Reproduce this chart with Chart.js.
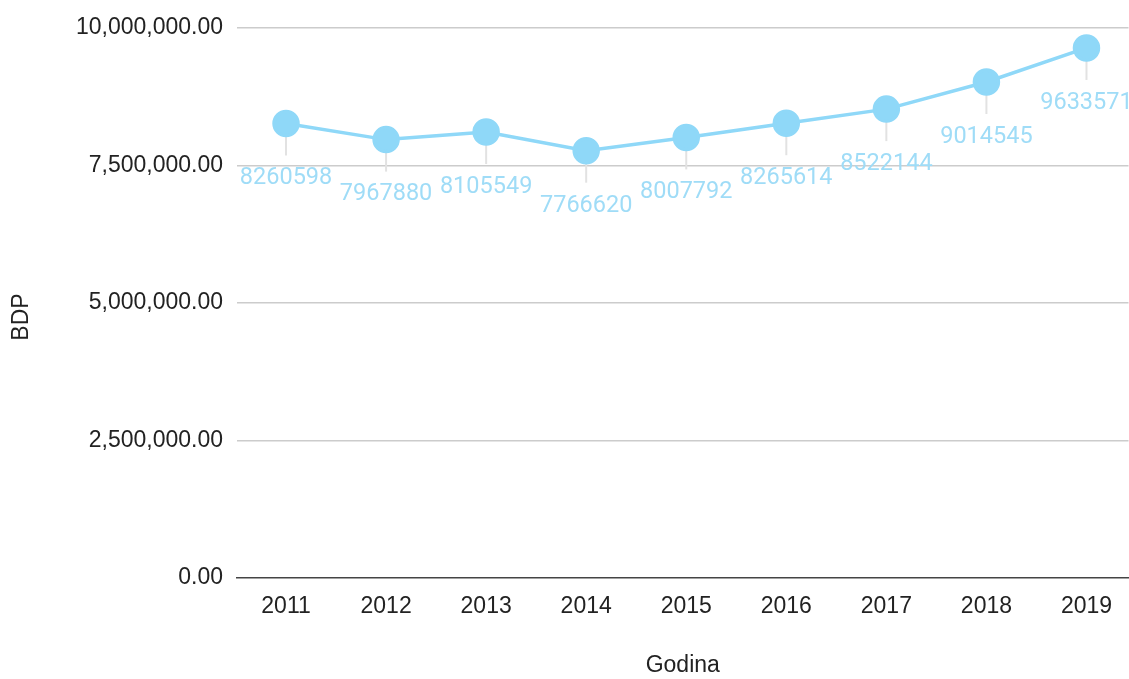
<!DOCTYPE html>
<html lang="hr">
<head>
  <meta charset="UTF-8">
  <title>BDP po godinama</title>
  <style>
    html, body { margin: 0; padding: 0; background: #fff; overflow: hidden; }
    .wrap { width: 1129px; height: 679px; overflow: hidden; }
  </style>
</head>
<body>
  <div class="wrap"><canvas id="bdpChart" width="1144" height="679"></canvas></div>

  <script src="https://cdn.jsdelivr.net/npm/chart.js"></script>
  <script>
    const years = [2011, 2012, 2013, 2014, 2015, 2016, 2017, 2018, 2019];
    const bdp = [8260598, 7967880, 8105549, 7766620, 8007792, 8265614, 8522144, 9014545, 9633571];
    const yTicks = [0, 2500000, 5000000, 7500000, 10000000];

    const lineColor = '#8fd8f8';
    const labelColor = '#9fdcf7';
    const axisFont = { family: 'Liberation Sans, Arial', size: 23 };

    // labels under each point, with a short grey leader line
    const pointLabels = {
      id: 'pointLabels',
      beforeDatasetsDraw(chart) {
        const ctx = chart.ctx;
        const meta = chart.getDatasetMeta(0);
        ctx.save();
        ctx.strokeStyle = '#e2e2e2';
        ctx.lineWidth = 2;
        meta.data.forEach(pt => {
          ctx.beginPath();
          ctx.moveTo(pt.x, pt.y);
          ctx.lineTo(pt.x, pt.y + 32);
          ctx.stroke();
        });
        ctx.restore();
      },
      afterDatasetsDraw(chart) {
        const ctx = chart.ctx;
        const meta = chart.getDatasetMeta(0);
        ctx.save();
        ctx.fillStyle = labelColor;
        ctx.font = '23.5px Roboto';
        ctx.textAlign = 'center';
        ctx.textBaseline = 'middle';
        meta.data.forEach((pt, i) => {
          ctx.fillText(String(bdp[i]), pt.x, pt.y + 55);
        });
        ctx.restore();
      }
    };

    // y axis title sits a bit below the middle of the plot in the original
    const yTitle = {
      id: 'yTitle',
      afterDraw(chart) {
        const ctx = chart.ctx;
        ctx.save();
        ctx.translate(22, 317);
        ctx.rotate(-Math.PI / 2);
        ctx.fillStyle = '#222';
        ctx.font = '23px Liberation Sans, Arial';
        ctx.textAlign = 'center';
        ctx.textBaseline = 'middle';
        ctx.fillText('BDP', 0, 0);
        ctx.restore();
      }
    };

    const ctx = document.getElementById('bdpChart').getContext('2d');
    new Chart(ctx, {
      type: 'line',
      data: {
        datasets: [{
          label: 'BDP',
          data: years.map((y, i) => ({ x: y, y: bdp[i] })),
          borderColor: lineColor,
          backgroundColor: lineColor,
          pointBackgroundColor: lineColor,
          pointBorderColor: lineColor,
          borderWidth: 3.5,
          pointRadius: 12,
          pointHoverRadius: 12,
          tension: 0
        }]
      },
      plugins: [pointLabels, yTitle],
      options: {
        responsive: false,
        animation: false,
        layout: { padding: { top: 25, right: 0, left: 0, bottom: 0 } },
        plugins: {
          legend: { display: false },
          tooltip: { enabled: false }
        },
        scales: {
          x: {
            type: 'linear',
            min: 2010.51,
            max: 2019.42,
            afterBuildTicks: s => { s.ticks = years.map(v => ({ value: v })); },
            afterFit: s => { s.height = 101; },
            grid: { display: false, drawTicks: false },
            border: { color: '#444', width: 1.5 },
            ticks: {
              color: '#222',
              font: axisFont,
              padding: 15,
              maxRotation: 0,
              callback: v => String(v)
            },
            title: {
              display: true,
              text: 'Godina',
              color: '#222',
              font: axisFont,
              padding: { top: 26, bottom: 0 }
            }
          },
          y: {
            min: 0,
            max: 10000000,
            afterBuildTicks: s => { s.ticks = yTicks.map(v => ({ value: v })); },
            afterFit: s => { s.width = 237; },
            grid: {
              color: c => c.tick && c.tick.value === 0 ? 'rgba(0,0,0,0)' : '#cccccc',
              lineWidth: 1.5,
              drawTicks: false
            },
            border: { display: false },
            ticks: {
              color: '#222',
              font: axisFont,
              padding: 14,
              callback: v => v.toLocaleString('en-US', { minimumFractionDigits: 2, maximumFractionDigits: 2 })
            },
            title: { display: false }
          }
        }
      }
    });
  </script>
</body>
</html>
